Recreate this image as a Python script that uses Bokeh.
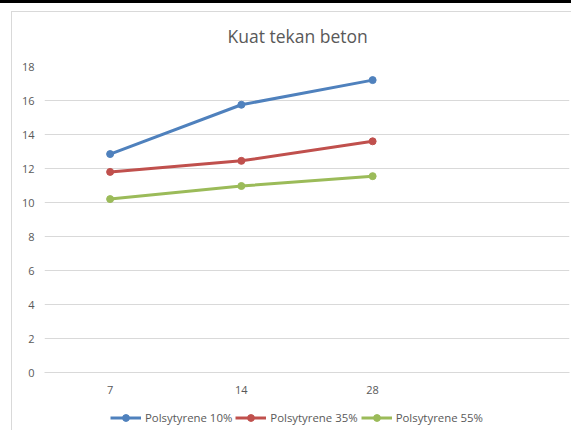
from bokeh.plotting import figure
from bokeh.layouts import column
from bokeh.models import Range1d, FixedTicker, Legend, LegendItem
from bokeh.embed import file_html
from bokeh.resources import INLINE

# ---- data ----
categories = ["7", "14", "28"]
series_names = ["Polsytyrene 10%", "Polsytyrene 35%", "Polsytyrene 55%"]
ps10 = [12.85, 15.75, 17.2]
ps35 = [11.8, 12.45, 13.6]
ps55 = [10.2, 10.97, 11.55]
y_ticks = [0, 2, 4, 6, 8, 10, 12, 14, 16, 18]
n_slots = 4  # category axis has one empty slot after "28"
title_text = "Kuat tekan beton"

colors = ["#4F81BD", "#C0504D", "#9BBB59"]
FONT = "Open Sans"
GREY_TXT = "#595959"
GRID = "#d9d9d9"

xs = [i + 0.5 for i in range(len(categories))]
series = [ps10, ps35, ps55]

W = 571
H_MAIN, H_LEG = 400, 30
LEFT, RIGHT, TOP, BOTTOM = 44, 2, 66, 28

p = figure(width=W, height=H_MAIN, output_backend="svg", toolbar_location=None,
           x_range=Range1d(0, n_slots), y_range=Range1d(y_ticks[0], y_ticks[-1]),
           min_border_left=LEFT, min_border_right=RIGHT,
           min_border_top=TOP, min_border_bottom=BOTTOM)
p.outline_line_color = None
p.background_fill_color = "white"
p.border_fill_alpha = 0
p.styles = {
    "background": (
        "linear-gradient(#000,#000) 0 0 / 100% 3px no-repeat, "
        "linear-gradient(#d9d9d9,#d9d9d9) 11px 11px / 1px 100% no-repeat, "
        "linear-gradient(#d9d9d9,#d9d9d9) 11px 11px / 100% 1px no-repeat, "
        "white"
    )
}

p.title.text = title_text
p.title.align = "left"
p.title.offset = 183
p.title.standoff = 38
p.title.text_font = FONT
p.title.text_font_size = "17.5px"
p.title.text_font_style = "normal"
p.title.text_color = GREY_TXT

# axes
p.xaxis.ticker = FixedTicker(ticks=xs)
p.xaxis.major_label_overrides = {x: c for x, c in zip(xs, categories)}
p.xaxis.axis_line_color = GRID
p.xaxis.major_tick_line_color = None
p.xaxis.minor_tick_line_color = None
p.xaxis.major_label_standoff = 7
p.yaxis.ticker = FixedTicker(ticks=y_ticks)
p.yaxis.axis_line_color = None
p.yaxis.major_tick_line_color = None
p.yaxis.minor_tick_line_color = None
p.yaxis.major_label_standoff = 4
for ax in (p.xaxis, p.yaxis):
    ax.major_label_text_font = FONT
    ax.major_label_text_font_size = "11px"
    ax.major_label_text_color = GREY_TXT

p.xgrid.grid_line_color = None
p.ygrid.grid_line_color = GRID
p.ygrid.grid_line_width = 1

for vals, col in zip(series, colors):
    p.line(xs, vals, line_color=col, line_width=3)
    p.scatter(xs, vals, size=7, fill_color=col, line_color=col)

# ---- legend strip below the chart ----
pl = figure(width=W, height=H_LEG, output_backend="svg", toolbar_location=None,
            x_range=Range1d(0, n_slots), y_range=Range1d(y_ticks[0], y_ticks[-1]),
            x_axis_location=None, y_axis_location=None,
            min_border=0, min_border_left=0, min_border_right=0,
            min_border_top=0, min_border_bottom=0)
pl.grid.visible = False
pl.outline_line_color = None
pl.background_fill_alpha = 0
pl.border_fill_alpha = 0
pl.styles = {
    "background": (
        "linear-gradient(#d9d9d9,#d9d9d9) 11px 0 / 1px 100% no-repeat, white"
    )
}

items = []
for name, vals, col in zip(series_names, series, colors):
    lr = pl.line(xs, vals, line_color=col, line_width=3, visible=False)
    sr = pl.scatter(xs, vals, size=7, fill_color=col, line_color=col, visible=False)
    items.append(LegendItem(label=name, renderers=[lr, sr]))

legend = Legend(items=items, orientation="horizontal", location=(66, 4),
                padding=0, margin=0, spacing=3, glyph_width=31, glyph_height=17,
                label_height=17, label_standoff=4,
                label_text_font=FONT, label_text_font_size="11.4px",
                label_text_color=GREY_TXT,
                inactive_fill_alpha=0, click_policy="none",
                border_line_alpha=0, background_fill_alpha=0)
pl.add_layout(legend, "center")

layout = column(p, pl, spacing=0)
open("out.html", "w").write(file_html(layout, INLINE))
